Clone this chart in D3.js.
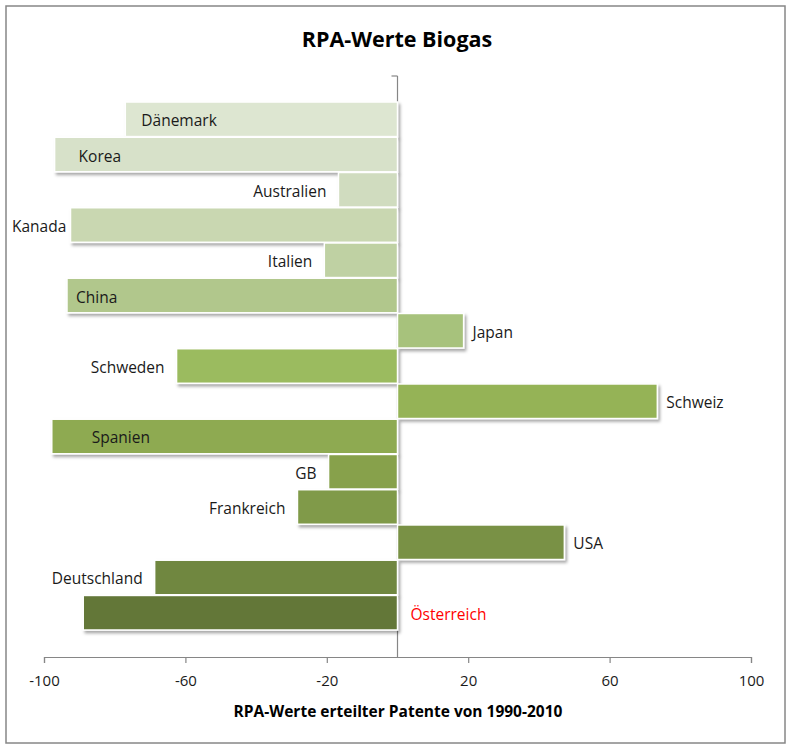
<!DOCTYPE html>
<html>
<head>
<meta charset="utf-8">
<script src="https://cdn.jsdelivr.net/npm/d3@7"></script>
<style>
  html, body { margin: 0; padding: 0; background: #fff; }
  svg { display: block; }
  text { font-family: "Open Sans", Lato, sans-serif; }
</style>
</head>
<body>
<svg id="chart" width="787" height="749"></svg>
<script>
// RPA values of granted biogas patents, 1990-2010
const countries = ["Dänemark", "Korea", "Australien", "Kanada", "Italien", "China", "Japan",
  "Schweden", "Schweiz", "Spanien", "GB", "Frankreich", "USA", "Deutschland", "Österreich"];
const rpaValues = [-77, -97, -16.7, -92.5, -20.7, -93.5, 18.7, -62.5, 73.5, -97.8, -19.5, -28.3, 47.2, -68.7, -88.9];
const barColors = ["#dde6d1", "#d7e1c9", "#d0dcbf", "#c9d7b1", "#bfd1a3", "#b1c78c", "#a7c27b",
  "#9bbb5e", "#95b356", "#8eaa51", "#87a14c", "#809a49", "#799145", "#6f8741", "#637739"];
const tickValues = [-100, -60, -20, 20, 60, 100];

const chartTitle = "RPA-Werte Biogas";
const axisTitle = "RPA-Werte erteilter Patente von 1990-2010";

// label placement per country: labels sit outside the bar end unless listed here
const insideLabel = { "Dänemark": 16, "Korea": 24, "China": 9, "Spanien": 40 };
const highlight = "Österreich";
const textColor = "#1a1a1a";

const svg = d3.select("#chart");

// drop shadow under the bars
const defs = svg.append("defs");
const f = defs.append("filter").attr("id", "shadow")
  .attr("x", "-5%").attr("y", "-20%").attr("width", "115%").attr("height", "160%");
f.append("feDropShadow").attr("dx", 2).attr("dy", 2.5).attr("stdDeviation", 1.5)
  .attr("flood-color", "#000").attr("flood-opacity", 0.35);

// chart frame
svg.append("rect").attr("x", 6).attr("y", 6).attr("width", 779).attr("height", 737)
  .attr("fill", "#fff").attr("stroke", "#878787").attr("stroke-width", 1.5);

const x = d3.scaleLinear().domain([-100, 100]).range([44, 751]);
const y = d3.scaleBand().domain(countries).range([102, 630]).paddingInner(0.02);
const axisY = 657;

// title
svg.append("text").attr("x", 397).attr("y", 47).attr("text-anchor", "middle")
  .style("fill", "#000").attr("font-size", 21.5).attr("font-weight", "bold").text(chartTitle);

// x axis (plain hyphen for negative numbers)
const xAxis = d3.axisBottom(x).tickValues(tickValues).tickSize(6).tickPadding(12)
  .tickFormat(d => String(d));
const gx = svg.append("g").attr("transform", `translate(0,${axisY})`).call(xAxis);
gx.select(".domain").attr("stroke", "#868686").attr("stroke-width", 1.2);
gx.selectAll(".tick line").attr("stroke", "#868686").attr("stroke-width", 1.2);
gx.selectAll(".tick text").attr("font-size", 15).style("fill", textColor)
  .style("font-family", "'Open Sans', Lato, sans-serif");

// axis title
svg.append("text").attr("x", 398).attr("y", 717).attr("text-anchor", "middle")
  .style("fill", "#000").attr("font-size", 15.5).attr("font-weight", "bold").text(axisTitle);

// vertical category axis at zero
const g0 = svg.append("g");
g0.append("line").attr("x1", x(0)).attr("x2", x(0)).attr("y1", 76).attr("y2", axisY)
  .attr("stroke", "#868686").attr("stroke-width", 1.2);
g0.append("line").attr("x1", x(0) - 6).attr("x2", x(0)).attr("y1", 76).attr("y2", 76)
  .attr("stroke", "#868686").attr("stroke-width", 1.2);

// bars
const rows = countries.map((c, i) => ({ c, v: rpaValues[i], color: barColors[i] }));
svg.append("g").selectAll("rect").data(rows).join("rect")
  .attr("x", d => x(Math.min(0, d.v)))
  .attr("y", d => y(d.c))
  .attr("width", d => Math.abs(x(d.v) - x(0)))
  .attr("height", y.bandwidth())
  .attr("fill", d => d.color)
  .attr("stroke", "#fff").attr("stroke-width", 1.5)
  .attr("filter", "url(#shadow)");

// country labels
svg.append("g").selectAll("text").data(rows).join("text")
  .attr("font-size", 15.5)
  .attr("y", d => y(d.c) + y.bandwidth() / 2 + 7)
  .style("fill", d => d.c === highlight ? "#ff0000" : textColor)
  .attr("text-anchor", d => {
    if (d.c === highlight || d.v > 0 || d.c in insideLabel) return "start";
    return "end";
  })
  .attr("x", d => {
    if (d.c === highlight) return x(0) + 13;
    if (d.v > 0) return x(d.v) + 9;
    if (d.c in insideLabel) return x(d.v) + insideLabel[d.c];
    return x(d.v) - 12;
  })
  .text(d => d.c)
  .each(function (d) {
    // keep outside labels within the chart frame
    const bb = this.getBBox();
    if (bb.x < 12) d3.select(this).attr("text-anchor", "start").attr("x", 12);
  });
</script>
</body>
</html>
